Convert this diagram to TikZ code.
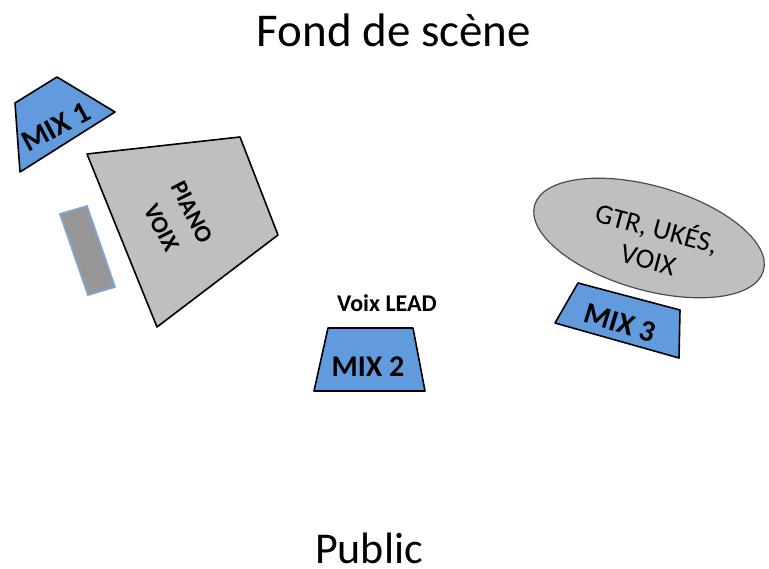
\documentclass[tikz,border=0pt]{standalone}
\usepackage{fontspec}
\setmainfont{Carlito}
\usetikzlibrary{shapes.geometric}
\definecolor{mixblue}{RGB}{98,154,222}
\definecolor{instgray}{RGB}{191,191,191}
\definecolor{kbgray}{RGB}{150,150,150}
\definecolor{kbedge}{RGB}{125,167,217}
\tikzset{
  mixbox/.style={draw=black, fill=mixblue, line width=1.6pt, line join=round},
  instbox/.style={draw=black, fill=instgray, line width=1.6pt, line join=round},
  mixlabel/.style={font=\fontsize{30}{34}\selectfont\bfseries, inner sep=0pt},
  instlabel/.style={align=center, inner sep=0pt},
  title/.style={font=\fontsize{47}{56}\selectfont, anchor=base, inner sep=0pt}
}
\begin{document}
\begin{tikzpicture}[x=1pt,y=-1pt]
\useasboundingbox (0,0) rectangle (769,569);
\fill[white] (0,0) rectangle (769,569);

% titles
\node[title] (fond) at (394,47) {Fond de scène};
\node[title, font=\fontsize{44}{52}\selectfont] (public) at (369,563) {Public};

% MIX 1
\coordinate (m1a) at (15,103);
\coordinate (m1b) at (57,77);
\coordinate (m1c) at (115,112);
\coordinate (m1d) at (20,172);
\draw[mixbox] (m1a) -- (m1b) -- (m1c) -- (m1d) -- cycle;
\node[mixlabel, rotate=28] (mix1) at (56,127) {MIX 1};

% piano
\coordinate (pa) at (87,154);
\coordinate (pb) at (240,137);
\coordinate (pc) at (278,235);
\coordinate (pd) at (157,327);
\draw[instbox] (pa) -- (pb) -- (pc) -- (pd) -- cycle;
\node[instlabel, rotate=-63, font=\fontsize{24}{34}\selectfont\bfseries] (piano) at (177,220) {PIANO\\VOIX};

% keyboard block
\coordinate (ka) at (60,214);
\coordinate (kb) at (87,206);
\coordinate (kc) at (115,287);
\coordinate (kd) at (88,295);
\draw[fill=kbgray, draw=kbedge, line width=1.8pt] (ka) -- (kb) -- (kc) -- (kd) -- cycle;

% MIX 2
\node[font=\fontsize{24}{28}\selectfont\bfseries, inner sep=0pt] (lead) at (387,303) {Voix LEAD};
\coordinate (m2a) at (328,328);
\coordinate (m2b) at (413,328);
\coordinate (m2c) at (425,391);
\coordinate (m2d) at (314,391);
\draw[mixbox] (m2a) -- (m2b) -- (m2c) -- (m2d) -- cycle;
\node[mixlabel] (mix2) at (368,367) {MIX 2};

% guitar ellipse
\draw[fill=instgray, draw=black!70, line width=1.2pt, rotate around={-16:(649,238)}] (649,238) ellipse [x radius=119pt, y radius=52pt];
\coordinate (gtrc) at (649,238);
\node[instlabel, rotate=-15, font=\fontsize{28}{32}\selectfont] (gtr) at (653,242) {GTR, UKÉS,\\VOIX};

% MIX 3
\coordinate (m3a) at (578,283);
\coordinate (m3b) at (680,310);
\coordinate (m3c) at (679,358);
\coordinate (m3d) at (555,323);
\draw[mixbox] (m3a) -- (m3b) -- (m3c) -- (m3d) -- cycle;
\node[mixlabel, rotate=-17] (mix3) at (620,323) {MIX 3};
\end{tikzpicture}
\end{document}
